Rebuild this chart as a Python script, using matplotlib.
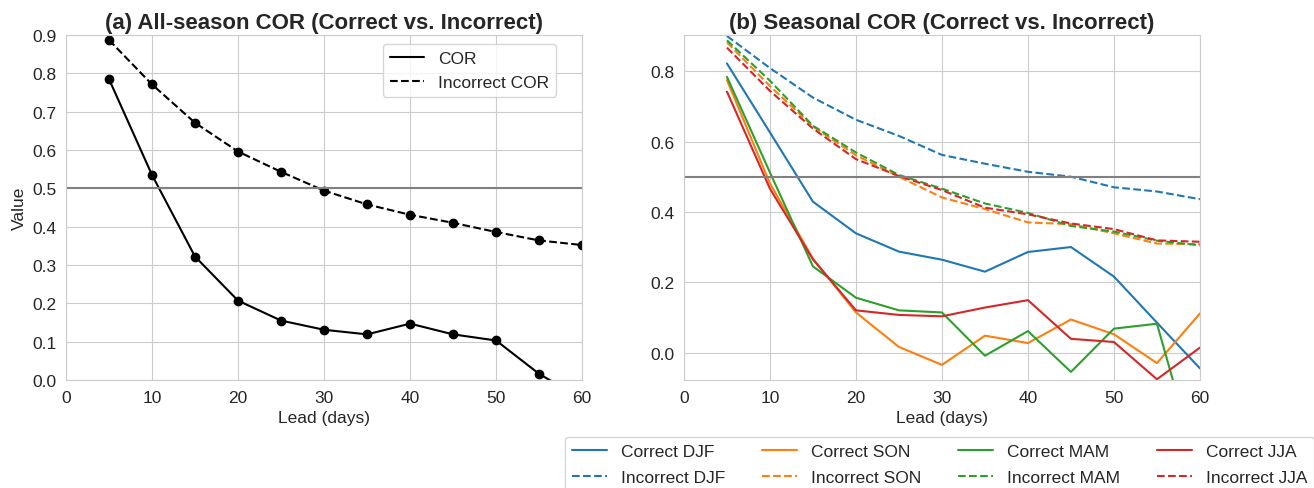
import numpy as np
import matplotlib
matplotlib.use('Agg')
import matplotlib.pyplot as plt
from matplotlib.lines import Line2D
import seaborn as sns

sns.set_style('whitegrid')
plt.rcParams['font.family'] = ['Liberation Sans', 'DejaVu Sans']

# Data
leads = [5, 10, 15, 20, 25, 30, 35, 40, 45, 50, 55, 60]

cor_all = [0.785, 0.535, 0.322, 0.207, 0.155, 0.131, 0.119, 0.147, 0.119, 0.103, 0.016, -0.05]
cor_all_incorrect = [0.887, 0.771, 0.671, 0.596, 0.543, 0.494, 0.458, 0.431, 0.410, 0.386, 0.364, 0.352]

seasons = ['DJF', 'SON', 'MAM', 'JJA']
season_colors = ['tab:blue', 'tab:orange', 'tab:green', 'tab:red']

correct_djf = [0.822, 0.626, 0.429, 0.339, 0.287, 0.264, 0.230, 0.286, 0.300, 0.216, 0.085, -0.045]
correct_son = [0.775, 0.481, 0.267, 0.114, 0.016, -0.035, 0.048, 0.027, 0.094, 0.052, -0.030, 0.111]
correct_mam = [0.784, 0.512, 0.245, 0.156, 0.120, 0.114, -0.009, 0.061, -0.055, 0.068, 0.082, -0.35]
correct_jja = [0.742, 0.466, 0.265, 0.120, 0.107, 0.103, 0.128, 0.149, 0.039, 0.030, -0.076, 0.014]

incorrect_djf = [0.900, 0.809, 0.725, 0.662, 0.616, 0.562, 0.537, 0.514, 0.500, 0.470, 0.458, 0.436]
incorrect_son = [0.882, 0.758, 0.643, 0.561, 0.500, 0.441, 0.408, 0.370, 0.365, 0.339, 0.310, 0.308]
incorrect_mam = [0.888, 0.773, 0.645, 0.569, 0.505, 0.466, 0.424, 0.397, 0.360, 0.344, 0.318, 0.305]
incorrect_jja = [0.867, 0.744, 0.637, 0.550, 0.502, 0.462, 0.412, 0.393, 0.367, 0.351, 0.319, 0.315]

correct_series = [correct_djf, correct_son, correct_mam, correct_jja]
incorrect_series = [incorrect_djf, incorrect_son, incorrect_mam, incorrect_jja]

fs = 12.5

fig = plt.figure(figsize=(13.14, 4.89), dpi=100)
ax1 = fig.add_axes([0.0502, 0.2209, 0.3928, 0.7055])
ax2 = fig.add_axes([0.5205, 0.2209, 0.3927, 0.7055])

# (a) all-season
ax1.plot(leads, cor_all, color='black', marker='o', markersize=6, lw=1.5)
ax1.plot(leads, cor_all_incorrect, color='black', marker='o', markersize=6, lw=1.5, linestyle='--')
ax1.axhline(0.5, color='gray', lw=1.5)
ax1.set_xlim(0, 60)
ax1.set_ylim(0, 0.9)
ax1.set_yticks(np.arange(0, 0.91, 0.1))
ax1.set_xlabel('Lead (days)', fontsize=fs)
ax1.set_ylabel('Value', fontsize=fs)
ax1.set_title('(a) All-season COR (Correct vs. Incorrect)', fontsize=16, fontweight='bold', pad=5)
ax1.tick_params(labelsize=fs)
left_handles = [Line2D([], [], color='black', lw=1.5, label='COR'),
                Line2D([], [], color='black', lw=1.5, linestyle='--', label='Incorrect COR')]
ax1.legend(handles=left_handles, loc='upper right', bbox_to_anchor=(0.95, 0.974),
           borderaxespad=0, fontsize=fs)

# (b) seasonal
handles = []
for name, c, cor, inc in zip(seasons, season_colors, correct_series, incorrect_series):
    h1, = ax2.plot(leads, cor, color=c, lw=1.5, label=f'Correct {name}')
    h2, = ax2.plot(leads, inc, color=c, lw=1.5, linestyle='--', label=f'Incorrect {name}')
    handles += [h1, h2]
ax2.axhline(0.5, color='gray', lw=1.5)
ax2.set_xlim(0, 60)
ax2.set_ylim(-0.078, 0.903)
ax2.set_yticks([0.0, 0.2, 0.4, 0.6, 0.8])
ax2.set_xlabel('Lead (days)', fontsize=fs)
ax2.set_title('(b) Seasonal COR (Correct vs. Incorrect)', fontsize=16, fontweight='bold', pad=5)
ax2.tick_params(labelsize=fs)

fig.legend(handles=handles, loc='upper left', bbox_to_anchor=(565 / 1314, 1 - 438 / 489),
           borderaxespad=0, ncol=4, fontsize=fs, columnspacing=2.15, labelspacing=0.6)

fig.savefig('out.png', dpi=100)
